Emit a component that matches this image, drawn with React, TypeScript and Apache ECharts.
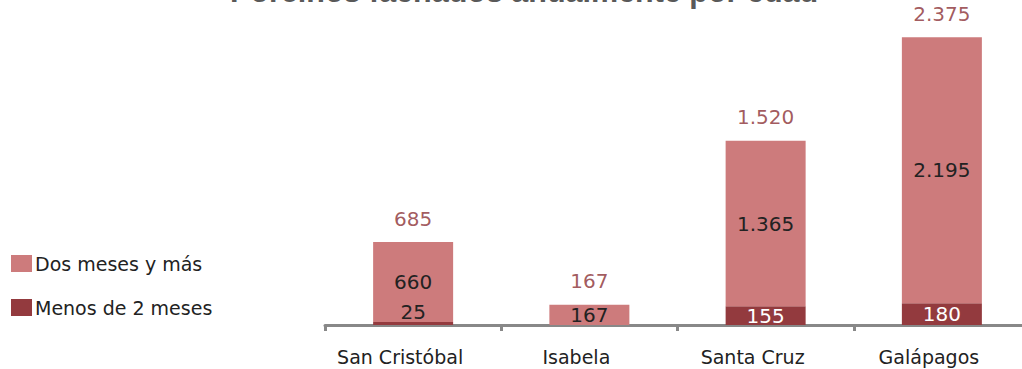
import React, { useEffect, useRef } from "react";
import * as echarts from "echarts";

const categories = ["San Cristóbal", "Isabela", "Santa Cruz", "Galápagos"];
const menosDe2Meses = [25, 0, 155, 180];
const dosMesesYMas = [660, 167, 1365, 2195];
const totals = [685, 167, 1520, 2375];
const titleText = "Porcinos faenados anualmente por edad";

const PINK = "#CD7B7C";
const DARK = "#933A3E";
const TOTAL_COLOR = "#8A2F34";
const FONT = "DejaVu Sans";

function fmt(v: number): string {
  return String(v).replace(/\B(?=(\d{3})+(?!\d))/g, ".");
}

export default function App() {
  const ref = useRef<HTMLDivElement>(null);
  useEffect(() => {
    document.body.style.margin = "0";
    if (!ref.current) return;
    const chart = echarts.init(ref.current, null, { renderer: "svg" });
    chart.setOption({
      animation: false,
      backgroundColor: "#ffffff",
      title: {
        text: titleText,
        left: 230,
        top: -25,
        padding: 0,
        textStyle: { fontFamily: "Liberation Sans", fontWeight: "bold", fontSize: 30.5, color: "#595959" },
      },
      legend: {
        data: ["Dos meses y más", "Menos de 2 meses"],
        orient: "vertical",
        left: 11,
        top: 254,
        padding: 0,
        itemWidth: 21,
        itemHeight: 17,
        itemGap: 25,
        icon: "rect",
        textStyle: { fontFamily: FONT, fontSize: 19, color: "#222", padding: [0, 0, 0, -2] },
      },
      grid: { left: 325, width: 705, top: 10, bottom: 44, outerBoundsMode: "none", containLabel: false },
      xAxis: {
        type: "category",
        data: categories,
        axisLine: { lineStyle: { color: "#888", width: 3 } },
        axisTick: { show: true, length: 6, lineStyle: { color: "#888", width: 3 } },
        axisLabel: {
          fontFamily: FONT,
          fontSize: 19,
          color: "#222",
          margin: 22,
          padding: [0, 26, 0, 0],
        },
      },
      yAxis: { type: "value", min: 0, max: 2600, show: false, splitLine: { show: false } },
      series: [
        {
          name: "Menos de 2 meses",
          type: "bar",
          stack: "t",
          barWidth: 80,
          itemStyle: { color: DARK },
          label: {
            show: true,
            position: "inside",
            color: "#fff",
            fontFamily: FONT,
            fontSize: 20,
            formatter: (p: any) => (p.value ? fmt(p.value) : ""),
          },
          data: menosDe2Meses.map((v) =>
            v < 60 ? { value: v, label: { position: "top", color: "#222", distance: 0 } } : v
          ),
        },
        {
          name: "Dos meses y más",
          type: "bar",
          stack: "t",
          barWidth: 80,
          itemStyle: { color: PINK },
          label: {
            show: true,
            position: "inside",
            color: "#222",
            fontFamily: FONT,
            fontSize: 20,
            formatter: (p: any) => (p.value ? fmt(p.value) : ""),
          },
          data: dosMesesYMas,
        },
        {
          name: "Total",
          type: "scatter",
          symbolSize: 1,
          itemStyle: { color: "rgba(0,0,0,0)" },
          z: 10,
          label: {
            show: true,
            position: "top",
            distance: 13,
            color: TOTAL_COLOR,
            fontFamily: FONT,
            fontSize: 20,
            formatter: (p: any) => fmt(p.value),
          },
          data: totals,
        },
      ],
    });
    return () => chart.dispose();
  }, []);
  return <div ref={ref} style={{ width: 1022, height: 369 }} />;
}
